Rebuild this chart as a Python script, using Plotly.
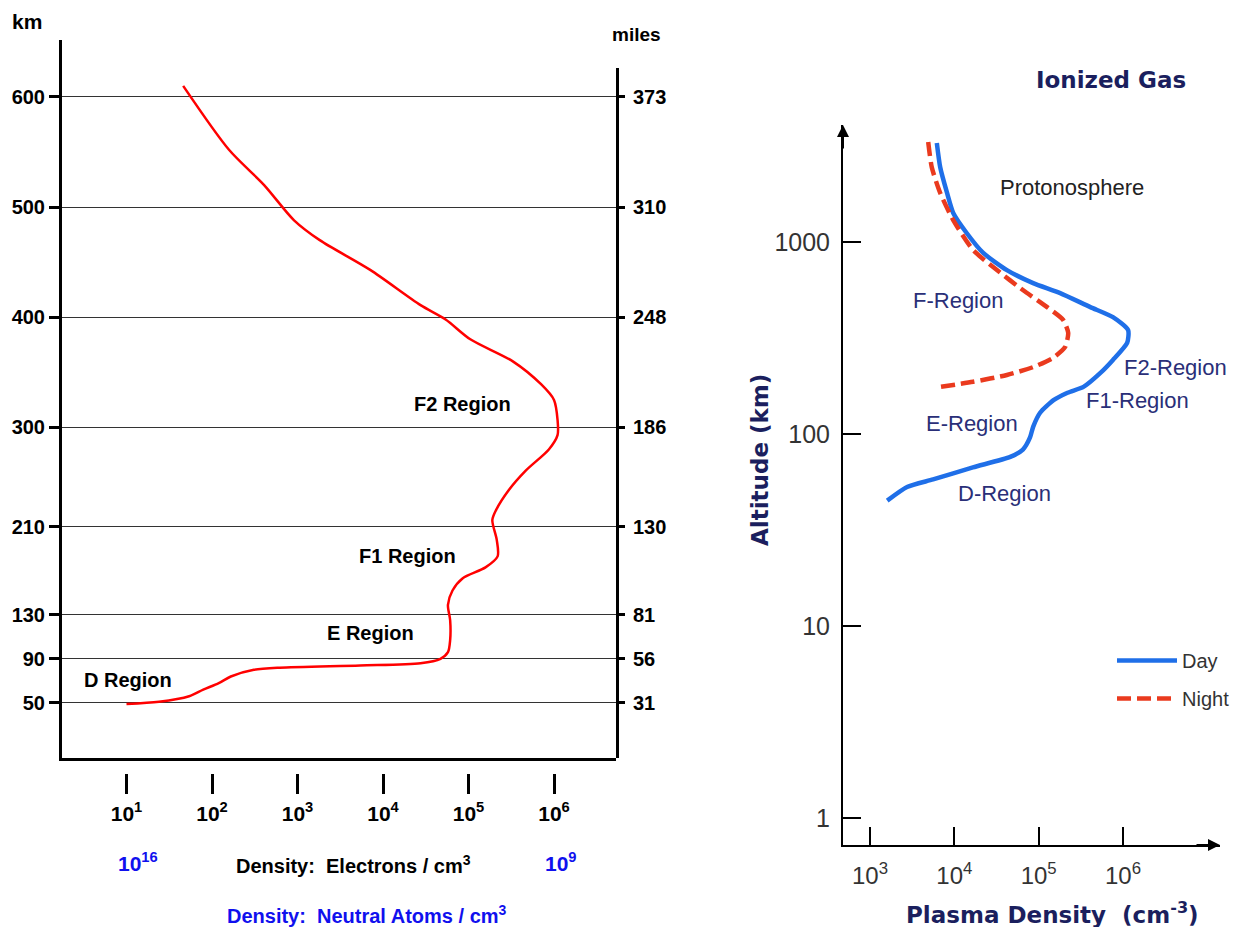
import numpy as np
import plotly.graph_objects as go

W, H = 1246, 935          # reference picture size
PAD = 8                   # browser body margin around the figure
FW, FH = W - 2 * PAD, H - 2 * PAD

# ---------------- Left chart data: electron density profile ----------------
electron_density = [46, 158, 407, 912, 1820, 7080, 2.75e4, 5.4e4, 1.05e5, 3.3e5,
                    7.1e5, 1.0e6, 1.1e6, 1.1e6, 8.7e5, 4.7e5, 2.95e5, 2.1e5, 1.9e5,
                    2.14e5, 2.19e5, 1.58e5, 8.5e4, 6.5e4, 5.75e4, 6.1e4, 6.1e4, 5.75e4,
                    4.7e4, 2.75e4, 5.4e3, 617, 309, 166, 120, 79, 54, 24, 10]
electron_alt_km = [610, 552, 520, 488, 470, 443, 411, 398, 380, 360,
                   339, 325, 307, 293, 280, 261, 243, 225, 216,
                   198, 183, 173, 163, 152, 139, 125, 107, 96,
                   90, 86, 84, 82, 80, 74, 68, 62, 56, 51, 49]

km_ticks = [50, 90, 130, 210, 300, 400, 500, 600]
mile_ticks = ["31", "56", "81", "130", "186", "248", "310", "373"]
electron_tick_vals = [1e1, 1e2, 1e3, 1e4, 1e5, 1e6]
electron_tick_text = ["10<sup>1</sup>", "10<sup>2</sup>", "10<sup>3</sup>",
                      "10<sup>4</sup>", "10<sup>5</sup>", "10<sup>6</sup>"]
neutral_tick_text = ["10<sup>16</sup>", "10<sup>9</sup>"]
neutral_tick_at = [1e1, 1e6]

left_labels = ["F2 Region", "F1 Region", "E Region", "D Region"]
left_label_density = [8.4e4, 1.96e4, 7.2e3, 10.4]
left_label_km = [321, 183, 113, 71]

# ---------------- Right chart data: day / night plasma density ----------------
day_density = [6.2e3, 6.8e3, 8.2e3, 9.7e3, 1.4e4, 2.2e4, 4.2e4, 8.6e4, 1.8e5, 4.1e5,
               7.6e5, 1.15e6, 1.12e6, 7.6e5, 5.4e5, 3.4e5, 2.2e5, 1.5e5, 1.04e5,
               8.6e4, 7.9e4, 6.5e4, 4.6e4, 1.66e4, 5.6e3, 2.75e3, 1.6e3]
day_alt = [3280, 2450, 1800, 1416, 1114, 877, 714, 611, 542, 458,
           406, 348, 298, 243, 208, 176, 164, 150, 129,
           109, 96, 83, 76, 67, 58, 53, 45]
night_density = [4.9e3, 5.4e3, 6.8e3, 9.7e3, 1.67e4, 3.2e4, 6.5e4, 1.26e5, 1.95e5,
                 2.24e5, 2.06e5, 1.48e5, 8.6e4, 4.2e4, 1.67e4, 6.8e3]
night_alt = [3320, 2450, 1800, 1300, 908, 714, 562, 458, 393,
             336, 284, 249, 223, 203, 187, 176]

alt_tick_vals = [1, 10, 100, 1000]
alt_tick_text = ["1", "10", "100", "1000"]
plasma_tick_vals = [1e3, 1e4, 1e5, 1e6]
plasma_tick_text = ["10<sup>3</sup>", "10<sup>4</sup>", "10<sup>5</sup>", "10<sup>6</sup>"]

right_labels = ["Protonosphere", "F-Region", "F2-Region", "F1-Region", "E-Region", "D-Region"]
right_label_density = [2.5e5, 1.1e4, 4.2e6, 1.5e6, 1.6e4, 3.9e4]
right_label_alt = [1930, 493, 221, 149, 113, 49]

# ---------------- styling ----------------
BOLDSANS = "Liberation Sans Narrow, Arial Narrow, Liberation Sans, Arial, sans-serif"
SANS = "Liberation Sans, Arial, sans-serif"
WIDE = "DejaVu Sans, Verdana, sans-serif"
NAVY = "#1b1f5e"
BLUE_TXT = "#1010ee"
DAY_C = "#1f6fe8"
NIGHT_C = "#ea3a1e"


def px_x(px):
    return (px - PAD) / FW


def px_y(py):
    return 1 - (py - PAD) / FH


# left chart geometry (reference pixels)
LX0, LX1 = 62, 616
LYB, LYT, RYT = 758, 40, 68
km_per_px = 550 / 606.0
left_top_km = (LYB - LYT) * km_per_px
right_top_km = (LYB - RYT) * km_per_px

fig = go.Figure()

fig.add_trace(go.Scatter(
    x=electron_density, y=electron_alt_km, mode="lines",
    line=dict(color="#ff0000", width=2.5, shape="spline", smoothing=0.8),
    xaxis="x", yaxis="y", showlegend=False, hoverinfo="skip"))
# anchor traces for auxiliary axes
fig.add_trace(go.Scatter(x=[None], y=[None], xaxis="x3", yaxis="y",
                         showlegend=False, hoverinfo="skip"))
fig.add_trace(go.Scatter(x=[None], y=[None], xaxis="x", yaxis="y2",
                         showlegend=False, hoverinfo="skip"))

fig.add_trace(go.Scatter(
    x=day_density, y=day_alt, mode="lines", name="Day", legendgroup="day",
    line=dict(color=DAY_C, width=4.5, shape="spline", smoothing=0.6),
    xaxis="x2", yaxis="y3", hoverinfo="skip"))
fig.add_trace(go.Scatter(
    x=night_density, y=night_alt, mode="lines", name="Night", legendgroup="night",
    line=dict(color=NIGHT_C, width=4.5, dash="14px,6px", shape="spline", smoothing=0.6),
    xaxis="x2", yaxis="y3", hoverinfo="skip"))

left_tickfont = dict(family=BOLDSANS, size=20, color="black", weight="bold")

fig.update_layout(
    width=FW, height=FH,
    margin=dict(l=0, r=0, t=0, b=0, autoexpand=False),
    paper_bgcolor="white", plot_bgcolor="rgba(0,0,0,0)",
    xaxis=dict(type="log", domain=[px_x(LX0), px_x(LX1)], automargin=False,
               range=[1 - (126.5 - LX0) / 85.5, 6 + (LX1 - 554) / 85.5],
               anchor="y", showline=True, linewidth=3, linecolor="black",
               showgrid=False, zeroline=False, ticks="", showticklabels=False),
    xaxis3=dict(type="log", matches="x", overlaying="x", anchor="free",
                automargin=False,
                domain=[px_x(LX0), px_x(LX1)], position=px_y(773), side="bottom",
                showline=False, showgrid=False, zeroline=False,
                ticks="outside", ticklen=20, tickwidth=3, tickcolor="black",
                tickvals=electron_tick_vals, ticktext=electron_tick_text,
                tickfont=dict(family=BOLDSANS, size=21, color="black", weight="bold"),
                ticklabelstandoff=2),
    yaxis=dict(domain=[px_y(LYB), px_y(LYT)], range=[0, left_top_km], anchor="x",
               automargin=False,
               showline=True, linewidth=3, linecolor="black",
               ticks="outside", ticklen=10, tickwidth=3, tickcolor="black",
               tickvals=km_ticks, ticktext=[str(v) for v in km_ticks],
               tickfont=left_tickfont, ticklabelstandoff=0,
               showgrid=True, gridcolor="#333333", gridwidth=1, zeroline=False),
    yaxis2=dict(domain=[px_y(LYB), px_y(RYT)], range=[0, right_top_km], anchor="x",
                automargin=False,
                side="right", showline=True, linewidth=3, linecolor="black",
                ticks="outside", ticklen=6, tickwidth=3, tickcolor="black",
                tickvals=km_ticks, ticktext=mile_ticks, tickfont=left_tickfont,
                showgrid=False, zeroline=False, ticklabelstandoff=4),
    xaxis2=dict(type="log", domain=[px_x(843), px_x(1220)], automargin=False,
                range=[3 - 27 / 84.33, 6 + 97 / 84.33], anchor="y3",
                showline=True, linewidth=2, linecolor="black",
                ticks="inside", ticklen=18, tickwidth=2, tickcolor="black",
                tickvals=plasma_tick_vals, ticktext=plasma_tick_text,
                tickfont=dict(family=SANS, size=24, color="#333333"),
                showgrid=False, zeroline=False, ticklabelstandoff=8),
    yaxis3=dict(type="log", domain=[px_y(845), px_y(125)], automargin=False,
                range=[-27 / 192, 3 + 117 / 192], anchor="x2",
                showline=True, linewidth=2, linecolor="black",
                ticks="inside", ticklen=18, tickwidth=2, tickcolor="black",
                tickvals=alt_tick_vals, ticktext=alt_tick_text,
                tickfont=dict(family=SANS, size=25, color="#333333"),
                showgrid=False, zeroline=False, ticklabelstandoff=6),
    legend=dict(x=px_x(1112), y=px_y(641), xanchor="left", yanchor="top",
                bgcolor="rgba(0,0,0,0)", font=dict(family=SANS, size=20, color="#333333"),
                itemwidth=60, tracegroupgap=9),
)

ann = []
# left chart texts
ann.append(dict(text="km", x=px_x(27), y=px_y(22), xref="paper", yref="paper",
                xanchor="center", yanchor="middle", showarrow=False,
                font=dict(family=BOLDSANS, size=21, color="black", weight="bold")))
ann.append(dict(text="miles", x=px_x(636), y=px_y(35), xref="paper", yref="paper",
                xanchor="center", yanchor="middle", showarrow=False,
                font=dict(family=BOLDSANS, size=19, color="black", weight="bold")))
for t, d, k in zip(left_labels, left_label_density, left_label_km):
    ann.append(dict(text=t, x=np.log10(d), y=k, xref="x", yref="y",
                    xanchor="center", yanchor="middle", showarrow=False,
                    font=dict(family=BOLDSANS, size=20, color="black", weight="bold")))
for t, d in zip(neutral_tick_text, neutral_tick_at):
    ann.append(dict(text=t, x=np.log10(d), y=px_y(862), xref="x", yref="paper",
                    xanchor="left", xshift=-11, yanchor="middle", showarrow=False,
                    font=dict(family=BOLDSANS, size=21, color=BLUE_TXT, weight="bold")))
ann.append(dict(text="Density:  Electrons / cm<sup>3</sup>", x=px_x(353), y=px_y(864),
                xref="paper", yref="paper", xanchor="center", yanchor="middle",
                showarrow=False,
                font=dict(family=BOLDSANS, size=20, color="black", weight="bold")))
ann.append(dict(text="Density:  Neutral Atoms / cm<sup>3</sup>", x=px_x(367), y=px_y(914),
                xref="paper", yref="paper", xanchor="center", yanchor="middle",
                showarrow=False,
                font=dict(family=BOLDSANS, size=20, color=BLUE_TXT, weight="bold")))

# right chart texts
ann.append(dict(text="Ionized Gas", x=px_x(1111), y=px_y(80), xref="paper", yref="paper",
                xanchor="center", yanchor="middle", showarrow=False,
                font=dict(family=WIDE, size=23, color=NAVY, weight="bold")))
ann.append(dict(text="Altitude (km)", x=px_x(760), y=px_y(460), xref="paper", yref="paper",
                xanchor="center", yanchor="middle", textangle=-90, showarrow=False,
                font=dict(family=WIDE, size=23, color=NAVY, weight="bold")))
ann.append(dict(text="Plasma Density  (cm<sup>-3</sup>)", x=px_x(1052), y=px_y(913),
                xref="paper", yref="paper", xanchor="center", yanchor="middle",
                showarrow=False,
                font=dict(family=WIDE, size=23, color=NAVY, weight="bold")))
for t, d, a in zip(right_labels, right_label_density, right_label_alt):
    ann.append(dict(text=t, x=np.log10(d), y=np.log10(a), xref="x2", yref="y3",
                    xanchor="center", yanchor="middle", showarrow=False,
                    font=dict(family=SANS, size=22,
                              color="#222222" if t == "Protonosphere" else "#2a2f78")))
# axis arrowheads
ann.append(dict(x=0, y=1.0, xref="x2 domain", yref="y3 domain", ax=0, ay=25,
                showarrow=True, arrowhead=2, arrowsize=1.2, arrowwidth=2,
                arrowcolor="black", text=""))
ann.append(dict(x=1.0, y=0, xref="x2 domain", yref="y3 domain", ax=-25, ay=0,
                showarrow=True, arrowhead=2, arrowsize=1.2, arrowwidth=2,
                arrowcolor="black", text=""))

fig.update_layout(annotations=ann)

fig.write_html("out.html")
